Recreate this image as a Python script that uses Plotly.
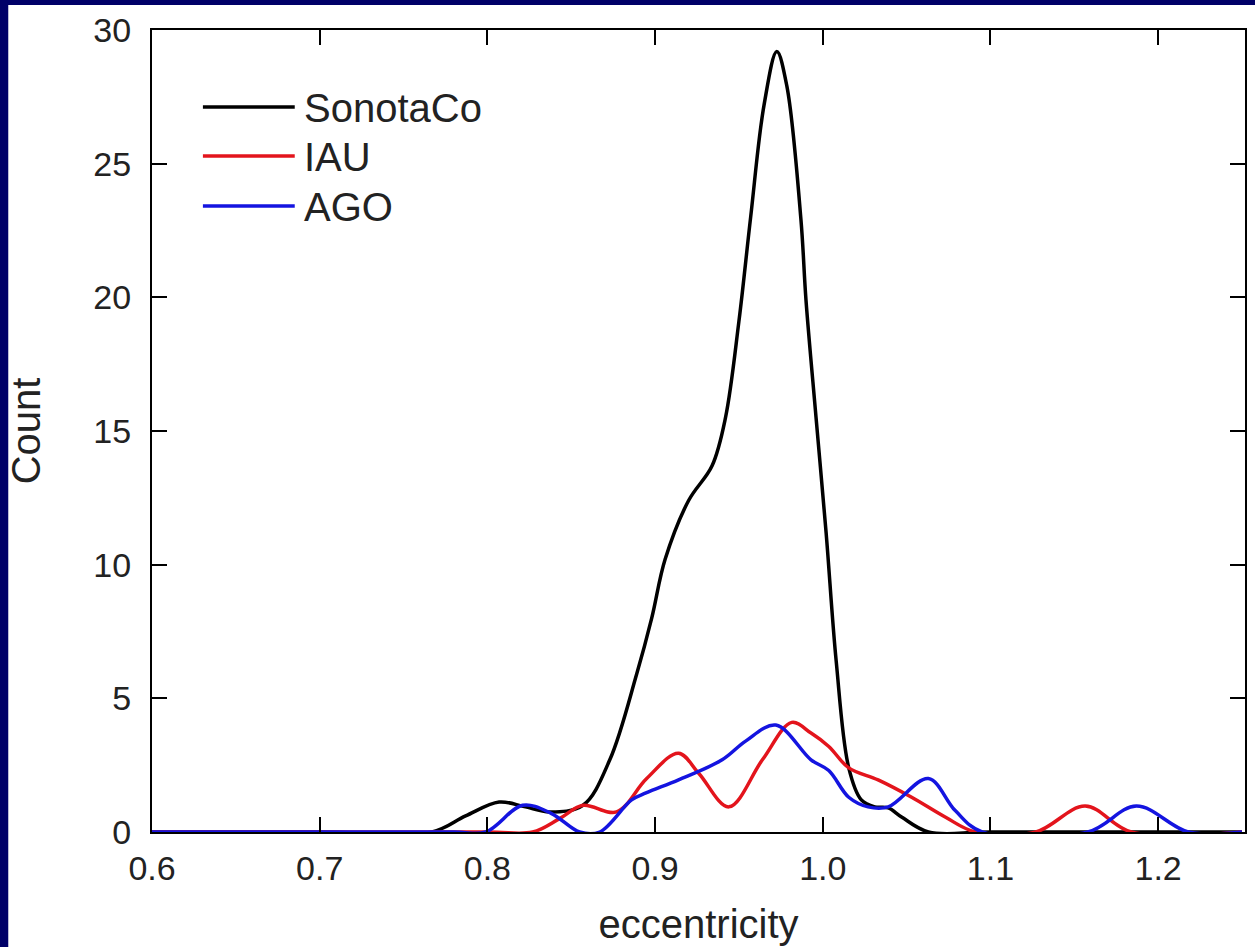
import plotly.graph_objects as go

# ---- data ----
sonotaco_e = [0.60, 0.70, 0.767, 0.787, 0.807, 0.822, 0.837, 0.857, 0.873, 0.889, 0.898,
              0.906, 0.920, 0.934, 0.942, 0.950, 0.957, 0.965, 0.9726, 0.9786,
              0.987, 0.990, 0.996, 1.002, 1.008, 1.0155, 1.023, 1.031, 1.039, 1.047,
              1.063, 1.10, 1.25]
sonotaco_n = [0, 0, 0, 0.6, 1.12, 0.95, 0.75, 1.0, 2.7, 5.9, 8.0,
              10.2, 12.4, 13.7, 15.5, 19.1, 23.0, 27.2, 29.2, 27.9,
              22.9, 19.9, 15.5, 11.2, 6.4, 2.4, 1.2, 0.94, 0.9, 0.56,
              0, 0, 0]

iau_e = [0.60, 0.80, 0.827, 0.843, 0.857, 0.877, 0.895, 0.914, 0.926, 0.944, 0.964,
         0.9815, 0.993, 1.0036, 1.0155, 1.033, 1.053, 1.073, 1.091, 1.127, 1.1565,
         1.184, 1.25]
iau_n = [0, 0, 0, 0.5, 1.0, 0.75, 2.0, 2.95, 2.2, 0.94, 2.7,
         4.1, 3.7, 3.2, 2.4, 1.95, 1.3, 0.56, 0, 0, 0.97,
         0, 0]

ago_e = [0.60, 0.78, 0.799, 0.821, 0.838, 0.855, 0.867, 0.886, 0.8946, 0.914, 0.940,
         0.954, 0.972, 0.993, 1.0036, 1.0155, 1.027, 1.039, 1.063, 1.079, 1.095,
         1.158, 1.187, 1.218, 1.25]
ago_n = [0, 0, 0, 1.0, 0.7, 0, 0, 1.2, 1.46, 1.95, 2.7,
         3.4, 4.0, 2.7, 2.3, 1.3, 0.94, 0.94, 2.0, 0.8, 0,
         0, 0.97, 0, 0]

series_names = ["SonotaCo", "IAU", "AGO"]
series_colors = ["#000000", "#e3141c", "#1414e0"]

x_ticks = [0.6, 0.7, 0.8, 0.9, 1.0, 1.1, 1.2]
x_tick_labels = ["0.6", "0.7", "0.8", "0.9", "1.0", "1.1", "1.2"]
y_ticks = [0, 5, 10, 15, 20, 25, 30]

FONT = "Arial, Liberation Sans, sans-serif"
W, H = 1255, 947
L, R, T, B = 152, 8, 30, 115
pw, ph = W - L - R, H - T - B

fig = go.Figure()
for name, col, xs, ys in zip(series_names, series_colors,
                             [sonotaco_e, iau_e, ago_e],
                             [sonotaco_n, iau_n, ago_n]):
    fig.add_trace(go.Scatter(x=xs, y=ys, mode="lines", name=name,
                             line=dict(color=col, width=3.5, shape="spline", smoothing=1.0),
                             showlegend=False))

def px2paper_x(px):
    return (px - L) / pw

def px2paper_y(py):
    return (H - B - py) / ph

shapes = [
    # white page over navy background (navy strip left and top)
    dict(type="rect", xref="paper", yref="paper",
         x0=px2paper_x(8), x1=px2paper_x(W + 5), y0=px2paper_y(H + 5), y1=px2paper_y(5),
         fillcolor="white", line=dict(width=0), layer="below"),
]
annotations = []
legend_y = [107, 156, 206]
for name, col, ly in zip(series_names, series_colors, legend_y):
    shapes.append(dict(type="line", xref="paper", yref="paper",
                       x0=px2paper_x(203), x1=px2paper_x(295),
                       y0=px2paper_y(ly), y1=px2paper_y(ly),
                       line=dict(color=col, width=3.5)))
    annotations.append(dict(text=name, xref="paper", yref="paper",
                            x=px2paper_x(302), y=px2paper_y(ly + 1),
                            xanchor="left", yanchor="middle", showarrow=False,
                            font=dict(family=FONT, size=40, color="#222222")))

axis_common = dict(showgrid=False, zeroline=False, showline=True, linecolor="black",
                   linewidth=2, mirror="ticks", ticks="inside", ticklen=15,
                   tickwidth=2, tickcolor="black",
                   tickfont=dict(family=FONT, size=34, color="#222222"))

fig.update_layout(
    width=W, height=H,
    margin=dict(l=L, r=R, t=T, b=B),
    paper_bgcolor="#000068",
    plot_bgcolor="white",
    shapes=shapes,
    annotations=annotations,
    xaxis=dict(range=[0.6, 1.2518], tickvals=x_ticks, ticktext=x_tick_labels,
               ticklabelstandoff=5,
               title=dict(text="eccentricity", standoff=24,
                          font=dict(family=FONT, size=40, color="#222222")),
               **axis_common),
    yaxis=dict(range=[0, 30], tickvals=y_ticks, ticklabelstandoff=12,
               title=dict(text="Count", standoff=40,
                          font=dict(family=FONT, size=40, color="#222222")),
               **axis_common),
)

fig.write_html("out.html")
